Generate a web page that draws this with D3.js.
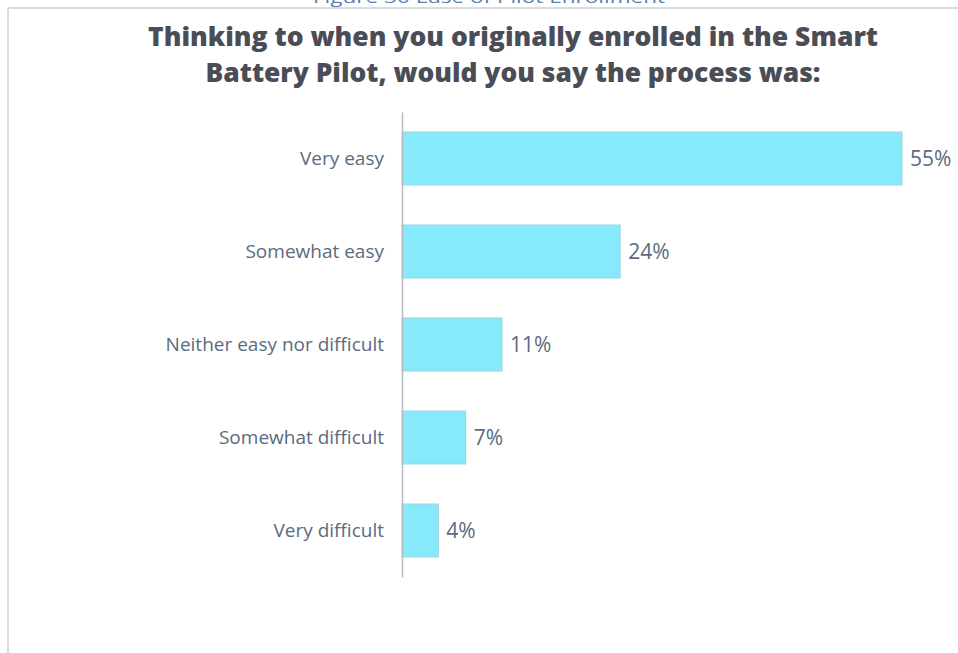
<!DOCTYPE html>
<html>
<head>
<meta charset="utf-8">
<script src="https://cdn.jsdelivr.net/npm/d3@7"></script>
<style>
  html, body { margin: 0; padding: 0; background: #ffffff; }
  svg { display: block; }
</style>
</head>
<body>
<svg id="chart" width="958" height="653"></svg>
<script>
// Survey responses: ease of enrolling in the Smart Battery Pilot
const categories = ["Very easy", "Somewhat easy", "Neither easy nor difficult", "Somewhat difficult", "Very difficult"];
const shares = [55, 24, 11, 7, 4];
const titleLines = ["Thinking to when you originally enrolled in the Smart", "Battery Pilot, would you say the process was:"];
const captionText = "Figure 30 Ease of Pilot Enrollment";

const svg = d3.select("#chart");
const W = 958, H = 653;

// Frame edges (top and left rules of the figure box)
svg.append("line").attr("x1", 8).attr("x2", W).attr("y1", 8).attr("y2", 8)
  .attr("stroke", "#dcdcdc").attr("stroke-width", 2);
svg.append("line").attr("x1", 8).attr("x2", 8).attr("y1", 8).attr("y2", H)
  .attr("stroke", "#dcdcdc").attr("stroke-width", 2);

// Figure caption, partly clipped above the frame
svg.append("text").attr("x", 489).attr("y", 3).attr("text-anchor", "middle")
  .attr("font-family", "'Open Sans', Lato, sans-serif").attr("font-size", 17)
  .attr("textLength", 352).attr("lengthAdjust", "spacingAndGlyphs")
  .attr("fill", "#5b80a8").text(captionText);

// Title
const titleWidths = [730, 615];
svg.append("g").selectAll("text").data(titleLines).join("text")
  .attr("x", 513).attr("y", (d, i) => 46 + i * 36)
  .attr("text-anchor", "middle")
  .attr("font-family", "'Open Sans', Lato, sans-serif")
  .attr("font-weight", 800).attr("font-size", 26)
  .attr("textLength", (d, i) => titleWidths[i]).attr("lengthAdjust", "spacingAndGlyphs")
  .attr("fill", "#4a4d55").text(d => d);

// Scales
const x = d3.scaleLinear().domain([0, 55]).range([402, 902]);
const y = d3.scaleBand().domain(categories).range([112, 577]).paddingInner(0.43).paddingOuter(0.215);

const labelFont = "'Open Sans', Lato, sans-serif";
const labelColor = "#5a6b7e";

// Bars
svg.append("g").selectAll("rect").data(categories).join("rect")
  .attr("x", x(0)).attr("y", d => y(d))
  .attr("width", (d, i) => x(shares[i]) - x(0))
  .attr("height", y.bandwidth())
  .attr("fill", "#86eafc").attr("stroke", "#9fd3df").attr("stroke-width", 1);

// Category axis
const yAxis = d3.axisLeft(y).tickSize(0).tickPadding(18);
const ax = svg.append("g").attr("transform", `translate(${x(0)},0)`).call(yAxis);
ax.select(".domain").attr("stroke", "#b8bcc2").attr("stroke-width", 1.5);
ax.selectAll("text").attr("font-family", labelFont).attr("font-size", 19).attr("fill", labelColor);

// Value labels
svg.append("g").selectAll("text").data(categories).join("text")
  .attr("x", (d, i) => x(shares[i]) + 8)
  .attr("y", d => y(d) + y.bandwidth() / 2)
  .attr("dy", "0.35em")
  .attr("font-family", labelFont).attr("font-size", 21)
  .attr("fill", labelColor)
  .text((d, i) => shares[i] + "%");
</script>
</body>
</html>
